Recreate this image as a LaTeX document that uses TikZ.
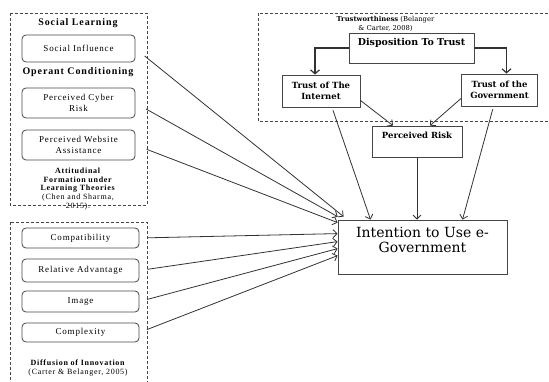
\documentclass[tikz,border=0pt]{standalone}
\usepackage{fontspec}
\setmainfont{Liberation Serif}
\newfontfamily\widefont[LetterSpace=9]{Liberation Serif}
\newfontfamily\cambriafont{DejaVu Serif}
\usetikzlibrary{arrows.meta,positioning}
\definecolor{linegray}{RGB}{50,50,50}
\definecolor{boxgray}{RGB}{70,70,70}

\begin{document}
\begin{tikzpicture}[x=1pt,y=-1pt,
    grp/.style={draw=boxgray, dashed, dash pattern=on 3pt off 2pt, thick},
    rbox/.style={draw=boxgray, thick, rounded corners=4pt, align=center, inner sep=0pt, font=\widefont\fontsize{9}{10.5}\selectfont},
    sbox/.style={draw=boxgray, thick, align=center, inner sep=0pt, font=\cambriafont\fontsize{8.5}{11}\selectfont\bfseries},
    ttl/.style={align=center, font=\widefont\fontsize{8}{8.6}\selectfont},
    head/.style={font=\widefont\fontsize{10}{11}\selectfont\bfseries},
    link/.style={draw=linegray, thick, -{Straight Barb[length=4pt,width=8pt]}},
    tlink/.style={draw=linegray, very thick, -{Straight Barb[length=4pt,width=9pt]}}]
  \useasboundingbox (0,0) rectangle (549,382);
  % dashed groups
  \draw[grp] (10,13) rectangle (147,205);
  \draw[grp] (10,222) rectangle (147,392);
  \draw[grp] (258,13) rectangle (560,121);
  % learning theories
  \node[head] (tSL) at (78,23) {Social Learning};
  \node[rbox, minimum width=113, minimum height=27] (si) at (78.5,48.5) {Social Influence};
  \node[head] (tOC) at (78,72) {Operant Conditioning};
  \node[rbox, minimum width=113, minimum height=30] (pcr) at (78.5,103) {Perceived Cyber\\Risk};
  \node[rbox, minimum width=113, minimum height=30] (pwa) at (78.5,145) {Perceived Website\\Assistance};
  \node[ttl] (tAF) at (78,189) {\textbf{Attitudinal}\\\textbf{Formation under}\\\textbf{Learning Theories}\\(Chen and Sharma,\\2015).};
  % diffusion of innovation
  \node[rbox, minimum width=117, minimum height=20] (comp) at (80.5,238) {Compatibility};
  \node[rbox, minimum width=117, minimum height=23] (ra) at (80.5,270.5) {Relative Advantage};
  \node[rbox, minimum width=117, minimum height=21] (img) at (80.5,301.5) {Image};
  \node[rbox, minimum width=117, minimum height=19] (cplx) at (80.5,332.5) {Complexity};
  \node[ttl] (tDI) at (78,368) {\textbf{Diffusion of Innovation}\\(Carter \& Belanger, 2005)};
  % trustworthiness
  \node[align=center, font=\cambriafont\fontsize{6.8}{8.5}\selectfont] (tTW) at (385.5,24) {\textbf{Trustworthiness} (Belanger\\\& Carter, 2008)};
  \node[sbox, font=\cambriafont\fontsize{9.5}{12}\selectfont\bfseries, minimum width=125, minimum height=30] (dtt) at (411.5,48) {Disposition To Trust\\~};
  \node[sbox, minimum width=78, minimum height=32] (tti) at (321,91) {Trust of The\\Internet};
  \node[sbox, minimum width=76, minimum height=32] (ttg) at (499.5,90) {Trust of the\\Government};
  \node[sbox, minimum width=90, minimum height=31] (pr) at (417,141.5) {Perceived Risk\\[2pt]~};
  \node[draw=boxgray, thick, align=center, inner sep=0pt, minimum width=169, minimum height=54,
        font=\cambriafont\fontsize{14}{15}\selectfont] (itu) at (422.5,247) {Intention to Use e-\\Government\\~};
  % links
  \draw[tlink] (dtt.west) -| ([xshift=-6pt]tti.north);
  \draw[tlink] (dtt.east) -| ([xshift=7pt]ttg.north);
  \draw[link] ([yshift=7pt]tti.south east) -- ([xshift=-24pt]pr.north);
  \draw[link] ([yshift=8pt]ttg.south west) -- ([xshift=13pt]pr.north);
  \draw[link, shorten <=3pt] ([xshift=11pt]tti.south) -- ([xshift=-52pt]itu.north);
  \draw[link] (pr.south) -- (pr.south |- itu.north);
  \draw[link, shorten <=3pt] ([xshift=-6pt]ttg.south) -- ([xshift=40pt]itu.north);
  \foreach \src/\dx/\dy in {si/6/3, pcr/0/3, pwa/0/-3}
    \draw[link, shorten <=12pt] (\src.east) -- ([xshift=\dx pt, yshift=\dy pt]itu.north west);
  \foreach \src/\dy in {comp/-14, ra/-22, img/-29, cplx/-36}
    \draw[link, shorten <=8pt] (\src.east) -- ([yshift=\dy pt]itu.north west);
\end{tikzpicture}
\end{document}
